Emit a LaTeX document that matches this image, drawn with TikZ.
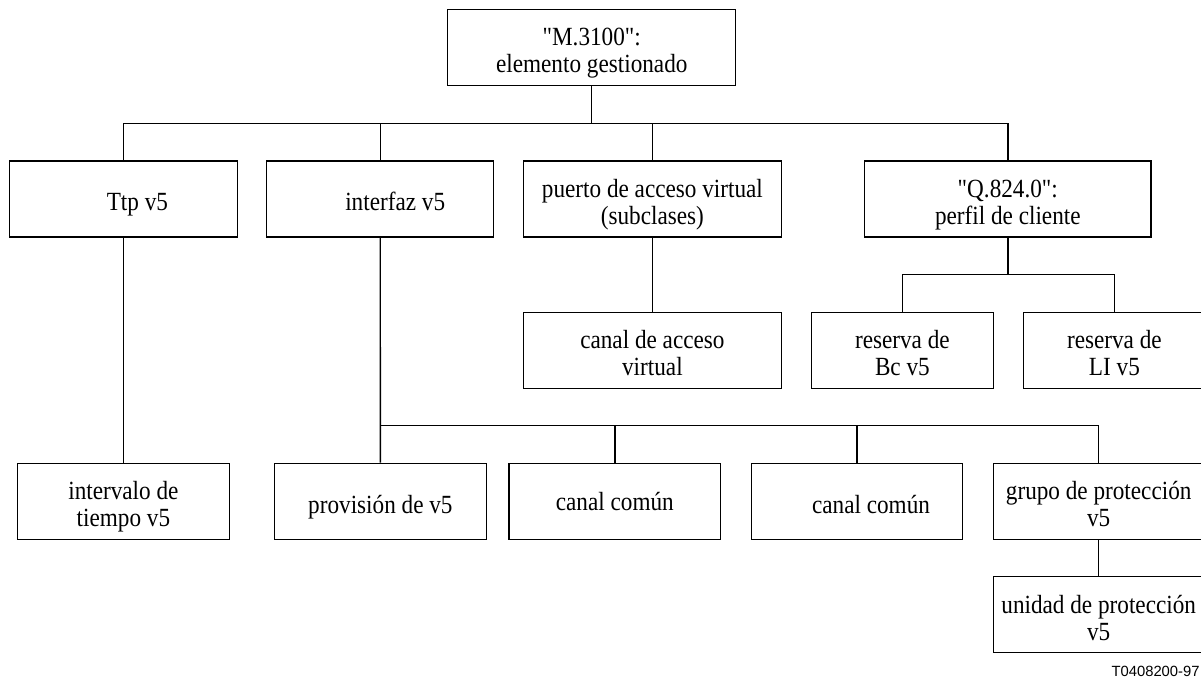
\documentclass[tikz,border=0pt]{standalone}
\usepackage{fontspec}
\usepackage{graphicx}
\setmainfont{Liberation Serif}[Ligatures=TeXOff]
\newfontfamily\labelsans{Liberation Sans}
\newcommand\boxtxt[1]{\scalebox{1}[1.13]{\begin{tabular}{@{}c@{}}#1\end{tabular}}}
\begin{document}
\begin{tikzpicture}[x=0.5pt,y=-0.5pt,
  box/.style={draw, line width=0.65pt, inner sep=0pt, minimum height=38pt},
  txt/.style={inner sep=0pt, yshift=-3.25pt,
    font=\fontsize{11.6pt}{12.08pt}\selectfont},
  conn/.style={line width=0.7pt}]
\useasboundingbox (0,0) rectangle (1201,679);
\clip (0,0) rectangle (1201,679);
% level 0
\node[box, minimum width=144pt, label={[txt]center:\boxtxt{"M.3100":\\elemento gestionado}}] (top) at (591.75,47.3) {};
% level 1
\node[box, minimum width=113.8pt, label={[txt, xshift=7pt]center:\boxtxt{Ttp v5}}] (ttp) at (123.4,199) {};
\node[box, minimum width=113.5pt, label={[txt, xshift=7.5pt]center:\boxtxt{interfaz v5}}] (itf) at (380.2,199) {};
\node[box, minimum width=128.9pt, label={[txt]center:\boxtxt{puerto de acceso virtual\\(subclases)}}] (pav) at (652.4,199) {};
\node[box, minimum width=143.3pt, label={[txt]center:\boxtxt{"Q.824.0":\\perfil de cliente}}] (q824) at (1007.8,199) {};
% level 2
\node[box, minimum width=128.9pt, label={[txt]center:\boxtxt{canal de acceso\\virtual}}] (cav) at (652.4,350.2) {};
\node[box, minimum width=90.9pt, label={[txt]center:\boxtxt{reserva de\\Bc v5}}] (rbc) at (902.4,350.2) {};
\node[box, minimum width=91pt, label={[txt]center:\boxtxt{reserva de\\LI v5}}] (rli) at (1114.4,350.2) {};
% level 3
\node[box, minimum width=106.2pt, label={[txt]center:\boxtxt{intervalo de\\tiempo v5}}] (itv) at (123.4,501.2) {};
\node[box, minimum width=106pt, label={[txt]center:\boxtxt{provisión de v5}}] (prv) at (380.4,501.2) {};
\node[box, minimum width=105.9pt, label={[txt, yshift=1.5pt]center:\boxtxt{canal común}}] (cc1) at (614.8,501.2) {};
\node[box, minimum width=105.6pt, label={[txt, xshift=7pt]center:\boxtxt{canal común}}] (cc2) at (857,501.2) {};
\node[box, minimum width=105.5pt, label={[txt]center:\boxtxt{grupo de protección\\v5}}] (gp) at (1098.7,501.2) {};
\node[box, minimum width=105.5pt, label={[txt]center:\boxtxt{unidad de protección\\v5}}] (up) at (1098.7,614.7) {};
% bus coordinates
\coordinate (busA) at (0,123.3);
\coordinate (busB) at (0,274.7);
\coordinate (busC) at (0,425.7);
% connectors from top
\draw[conn] (top.south) -- (top.south |- busA);
\draw[conn] (ttp.north) |- (q824.north |- busA) -- (q824.north);
\draw[conn] (itf.north) -- (itf.north |- busA);
\draw[conn] (pav.north) -- (pav.north |- busA);
% Ttp
\draw[conn] (ttp.south) -- (itv.north);
% puerto
\draw[conn] (pav.south) -- (cav.north);
% Q.824
\draw[conn] (q824.south) -- (q824.south |- busB);
\draw[conn] (rbc.north) |- (rli.north |- busB) -- (rli.north);
% interfaz
\draw[conn] (itf.south) -- (prv.north);
\draw[conn] (itf.south |- busC) -| (gp.north);
\draw[conn] (cc1.north) -- (cc1.north |- busC);
\draw[conn] (cc2.north) -- (cc2.north |- busC);
\draw[conn] (gp.south) -- (up.north);
% figure code
\node[anchor=base east, inner sep=0pt, font=\labelsans\fontsize{7.4pt}{8pt}\selectfont] (code) at (1200,676) {T0408200-97};
\end{tikzpicture}
\end{document}
